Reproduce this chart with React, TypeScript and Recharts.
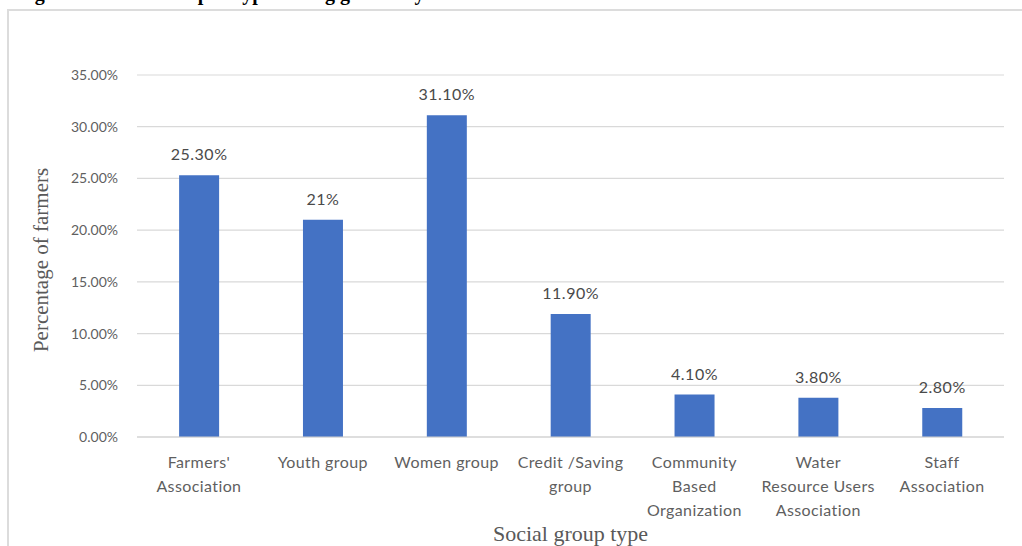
import React from "react";
import { BarChart, Bar, XAxis, YAxis, CartesianGrid, LabelList, Label } from "recharts";

const categoryLines: string[][] = [
  ["Farmers'", "Association"],
  ["Youth group"],
  ["Women group"],
  ["Credit /Saving", "group"],
  ["Community", "Based", "Organization"],
  ["Water", "Resource Users", "Association"],
  ["Staff", "Association"],
];
const values: number[] = [25.3, 21, 31.1, 11.9, 4.1, 3.8, 2.8];
const valueLabels: string[] = ["25.30%", "21%", "31.10%", "11.90%", "4.10%", "3.80%", "2.80%"];
const yTicks: number[] = [0, 5, 10, 15, 20, 25, 30, 35];
const yTitle = "Percentage of farmers";
const xTitle = "Social group type";
const figureTitle = "Figure 4: Membership of type among gender by sex";

const data = categoryLines.map((lines, i) => ({
  name: lines.join(" "),
  lines,
  value: values[i],
  label: valueLabels[i],
}));

const LABEL_FONT = "Lato, 'Open Sans', sans-serif";

const XTick = (props: any) => {
  const { x, y, index } = props;
  const lines = categoryLines[index] || [];
  return (
    <text
      x={x}
      y={y}
      textAnchor="middle"
      fill="#5f5f5f"
      fontFamily={LABEL_FONT}
      fontSize={16}
      letterSpacing={0.4}
    >
      {lines.map((l, i) => (
        <tspan key={i} x={x} dy={i === 0 ? 31 : 24}>
          {l}
        </tspan>
      ))}
    </text>
  );
};

export default function App() {
  return (
    <div
      style={{
        position: "absolute",
        left: 0,
        top: 0,
        width: 1022,
        height: 546,
        overflow: "hidden",
        background: "#ffffff",
      }}
    >
      <div
        style={{
          position: "absolute",
          left: 17,
          top: -17,
          fontFamily: "'Liberation Serif', 'Times New Roman', serif",
          fontWeight: "bold",
          fontSize: 20,
          lineHeight: "20px",
          whiteSpace: "nowrap",
          color: "#000",
        }}
      >
        {figureTitle}
      </div>
      <div
        style={{
          position: "absolute",
          left: 7,
          top: 9,
          width: 1100,
          height: 600,
          border: "2px solid #dcdcdc",
          boxSizing: "border-box",
        }}
      />
      <div style={{ position: "absolute", left: 0, top: 0 }}>
        <BarChart
          width={1022}
          height={546}
          data={data}
          margin={{ top: 75, right: 18, bottom: 0, left: 0 }}
          barCategoryGap="34%"
        >
          <CartesianGrid vertical={false} stroke="#d9d9d9" strokeWidth={1.2} />
          <XAxis
            dataKey="name"
            axisLine={{ stroke: "#d0d0d0", strokeWidth: 1.2 }}
            tickLine={false}
            tickSize={0}
            tickMargin={0}
            height={109}
            interval={0}
            tick={<XTick />}
          >
            <Label
              content={(p: any) => {
                const vb = p.viewBox;
                return (
                  <text
                    x={vb.x + vb.width / 2}
                    y={vb.y + 104}
                    textAnchor="middle"
                    fill="#595959"
                    fontFamily="'Liberation Serif', 'Times New Roman', serif"
                    fontSize={22}
                  >
                    {xTitle}
                  </text>
                );
              }}
            />
          </XAxis>
          <YAxis
            domain={[0, 35]}
            ticks={yTicks}
            width={137}
            axisLine={false}
            tickLine={false}
            tickSize={0}
            tickMargin={19}
            tick={{ fill: "#5f5f5f", fontFamily: LABEL_FONT, fontSize: 14 }}
            tickFormatter={(v: number) => v.toFixed(2) + "%"}
          >
            <Label
              content={(p: any) => {
                const vb = p.viewBox;
                const cx = vb.x + 48;
                const cy = vb.y + vb.height / 2 + 4;
                return (
                  <text
                    x={cx}
                    y={cy}
                    transform={`rotate(-90, ${cx}, ${cy})`}
                    textAnchor="middle"
                    fill="#595959"
                    fontFamily="'Liberation Serif', 'Times New Roman', serif"
                    fontSize={21}
                  >
                    {yTitle}
                  </text>
                );
              }}
            />
          </YAxis>
          <Bar dataKey="value" fill="#4472C4" isAnimationActive={false}>
            <LabelList
              dataKey="label"
              position="top"
              offset={15}
              fill="#4a4a4a"
              fontFamily={LABEL_FONT}
              fontSize={16}
              letterSpacing={0.5}
            />
          </Bar>
        </BarChart>
      </div>
    </div>
  );
}
